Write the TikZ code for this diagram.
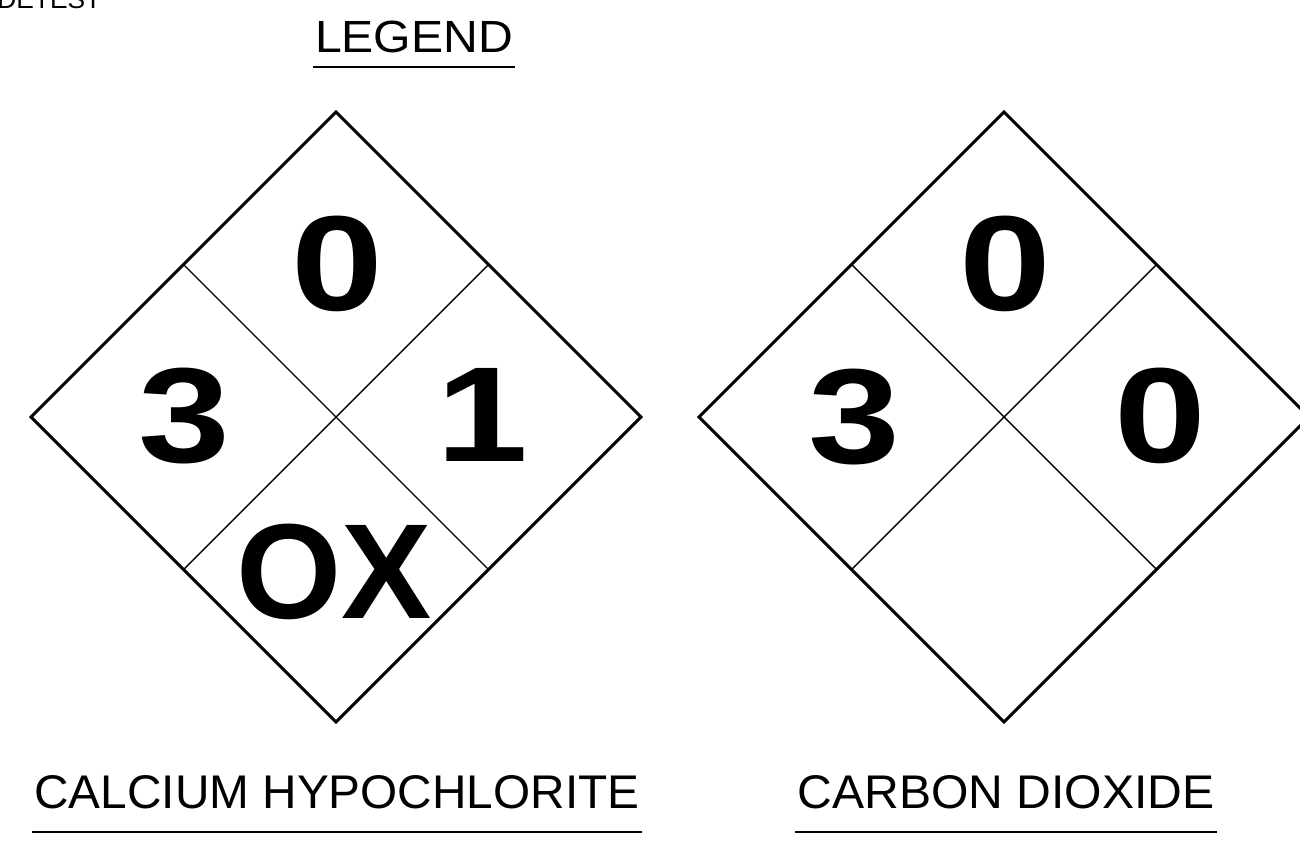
\documentclass[tikz,border=0pt]{standalone}
\usepackage{fontspec}
\usepackage{graphicx}
\setmainfont{Liberation Sans}

\newcommand{\wide}[1]{\scalebox{1.22}[1]{#1}}

\tikzset{
  outer/.style={line width=1.7pt, line join=miter},
  inner/.style={line width=0.8pt},
  uline/.style={line width=1.3pt},
  rating/.style={font={\bfseries\fontsize{77}{77}\selectfont}, inner sep=0pt},
  title/.style={inner sep=0pt, anchor=base}
}

\begin{document}
\begin{tikzpicture}[x=0.02cm,y=-0.02cm]
  \useasboundingbox (0,0) rectangle (1300,841);
  \clip (0,0) rectangle (1300,841);

  % clipped note at the top left
  \node[anchor=base west, inner sep=0pt, font=\fontsize{15}{15}\selectfont] (note) at (-3,9) {DETEST};

  % legend heading
  \node[title] (lg) at (414,53) {\resizebox{3.96cm}{0.63cm}{LEGEND}};
  \draw[uline] ([shift={(-2,14)}]lg.base west) -- ([shift={(2,14)}]lg.base east);

  % diamond one
  \coordinate (c1) at (336,417);
  \draw[outer] (c1) ++(0,-305) -- ++(305,305) -- ++(-305,305) -- ++(-305,-305) -- cycle;
  \draw[inner] (c1) ++(-152.5,-152.5) -- ++(305,305);
  \draw[inner] (c1) ++(152.5,-152.5) -- ++(-305,305);
  \node[rating] (h1) at (337,264) {\wide{0}};
  \node[rating] (f1) at (184,416) {\wide{3}};
  \node[rating] (r1) at (482,415) {\wide{1}};
  \node[rating] (s1) at (334,572) {OX};

  % diamond two
  \coordinate (c2) at (1004,417);
  \draw[outer] (c2) ++(0,-305) -- ++(305,305) -- ++(-305,305) -- ++(-305,-305) -- cycle;
  \draw[inner] (c2) ++(-152.5,-152.5) -- ++(305,305);
  \draw[inner] (c2) ++(152.5,-152.5) -- ++(-305,305);
  \node[rating] (h2) at (1005,264) {\wide{0}};
  \node[rating] (f2) at (854,417) {\wide{3}};
  \node[rating] (r2) at (1160,416) {\wide{0}};

  % names
  \node[title] (n1) at (337,808) {\resizebox{12.1cm}{0.66cm}{CALCIUM HYPOCHLORITE}};
  \draw[uline] ([shift={(-2,24)}]n1.base west) -- ([shift={(2,24)}]n1.base east);
  \node[title] (n2) at (1006,808) {\resizebox{8.34cm}{0.66cm}{CARBON DIOXIDE}};
  \draw[uline] ([shift={(-2,24)}]n2.base west) -- ([shift={(2,24)}]n2.base east);
\end{tikzpicture}
\end{document}
